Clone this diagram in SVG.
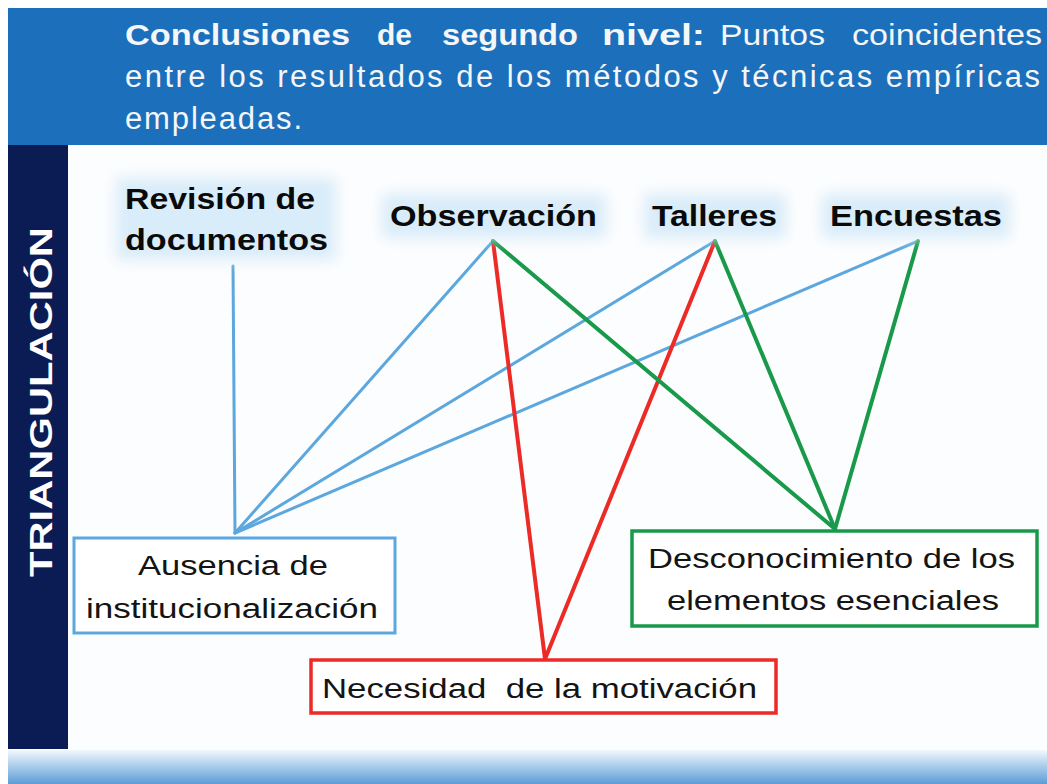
<svg xmlns="http://www.w3.org/2000/svg" width="1047" height="784" viewBox="0 0 1047 784">
  <style>
    .hdr { font-family: "Liberation Sans", Arial, sans-serif; font-size: 29px; fill: #f4f6f8; }
    .hb { font-weight: bold; }
    .big { font-size: 31px; }
    .src { font-family: "Liberation Sans", Arial, sans-serif; font-size: 30px; font-weight: bold; fill: #0a0a0a; }
    .lbl { font-family: "Liberation Sans", Arial, sans-serif; font-size: 27px; fill: #141414; }
    .halo { fill: #d9ecf9; filter: url(#blur); }
    .cb { stroke: #5ba7de; stroke-width: 3; fill: none; stroke-linecap: round; }
    .cr { stroke: #ec2a26; stroke-width: 4; fill: none; stroke-linecap: round; }
    .cg { stroke: #19994a; stroke-width: 4; fill: none; stroke-linecap: round; }
    .box { fill: #ffffff; }
  </style>
  <defs>
    <filter id="blur" x="-20%" y="-50%" width="140%" height="200%">
      <feGaussianBlur stdDeviation="7"/>
    </filter>
    <linearGradient id="band" x1="0" y1="0" x2="0" y2="1">
      <stop offset="0" stop-color="#f2f8fd"/>
      <stop offset="1" stop-color="#5c9dd6"/>
    </linearGradient>
  </defs>

  <rect x="0" y="0" width="1047" height="784" fill="#ffffff"/>
  <rect x="68" y="145" width="979" height="606" fill="#fcfdfe"/>

  <!-- header banner -->
  <g id="header">
    <rect x="8" y="8" width="1039" height="137" fill="#1c6fbb"/>
    <text class="hdr hb" x="125" y="45" textLength="225" lengthAdjust="spacingAndGlyphs">Conclusiones</text>
    <text class="hdr hb" x="377" y="45" textLength="35" lengthAdjust="spacingAndGlyphs">de</text>
    <text class="hdr hb" x="442" y="45" textLength="136" lengthAdjust="spacingAndGlyphs">segundo</text>
    <text class="hdr hb" x="602" y="45" textLength="103" lengthAdjust="spacingAndGlyphs">nivel:</text>
    <text class="hdr" x="720" y="45" textLength="105" lengthAdjust="spacingAndGlyphs">Puntos</text>
    <text class="hdr" x="852" y="45" textLength="190" lengthAdjust="spacingAndGlyphs">coincidentes</text>
    <text class="hdr big" x="125" y="87" textLength="915" lengthAdjust="spacing">entre los resultados de los métodos y técnicas empíricas</text>
    <text class="hdr big" x="125" y="129" textLength="177" lengthAdjust="spacing">empleadas.</text>
  </g>

  <!-- left side bar -->
  <g id="sidebar">
    <rect x="8" y="145" width="60" height="604" fill="#0b1c55"/>
    <text x="0" y="0" transform="translate(52,402) rotate(-90)" text-anchor="middle" font-family="Liberation Sans, Arial, sans-serif" font-size="31" font-weight="bold" fill="#ffffff" textLength="350" lengthAdjust="spacingAndGlyphs">TRIANGULACIÓN</text>
  </g>

  <!-- bottom band -->
  <rect x="8" y="750" width="1039" height="34" fill="url(#band)"/>

  <!-- connectors -->
  <g id="connectors">
    <line class="cb" x1="233" y1="266" x2="235" y2="533"/>
    <line class="cb" x1="493" y1="241" x2="235" y2="533"/>
    <line class="cb" x1="715" y1="241" x2="235" y2="533"/>
    <line class="cb" x1="918" y1="241" x2="235" y2="533"/>
    <line class="cr" x1="493" y1="241" x2="545" y2="659"/>
    <line class="cr" x1="715" y1="241" x2="545" y2="659"/>
    <line class="cg" x1="493" y1="241" x2="835" y2="529"/>
    <line class="cg" x1="715" y1="241" x2="835" y2="529"/>
    <line class="cg" x1="918" y1="241" x2="835" y2="529"/>
  </g>

  <!-- source nodes -->
  <g id="node-revision">
    <rect class="halo" x="116" y="178" width="220" height="82"/>
    <text class="src" x="125" y="209" textLength="190" lengthAdjust="spacingAndGlyphs">Revisión de</text>
    <text class="src" x="125" y="250" textLength="203" lengthAdjust="spacingAndGlyphs">documentos</text>
  </g>
  <g id="node-observacion">
    <rect class="halo" x="382" y="194" width="224" height="44"/>
    <text class="src" x="390" y="226" textLength="207" lengthAdjust="spacingAndGlyphs">Observación</text>
  </g>
  <g id="node-talleres">
    <rect class="halo" x="644" y="194" width="142" height="44"/>
    <text class="src" x="652" y="226" textLength="125" lengthAdjust="spacingAndGlyphs">Talleres</text>
  </g>
  <g id="node-encuestas">
    <rect class="halo" x="822" y="194" width="188" height="44"/>
    <text class="src" x="830" y="226" textLength="172" lengthAdjust="spacingAndGlyphs">Encuestas</text>
  </g>

  <!-- result nodes -->
  <g id="node-ausencia">
    <rect class="box" x="74" y="538" width="321" height="95" stroke="#5ba7de" stroke-width="3"/>
    <text class="lbl" x="138" y="575" textLength="190" lengthAdjust="spacingAndGlyphs">Ausencia de</text>
    <text class="lbl" x="86" y="618" textLength="292" lengthAdjust="spacingAndGlyphs">institucionalización</text>
  </g>
  <g id="node-necesidad">
    <rect class="box" x="311" y="660" width="465" height="53" stroke="#ec2a26" stroke-width="3.5"/>
    <text class="lbl" x="322" y="698" textLength="435" lengthAdjust="spacingAndGlyphs">Necesidad&#160; de la motivación</text>
  </g>
  <g id="node-desconocimiento">
    <rect class="box" x="632" y="531" width="405" height="95" stroke="#19994a" stroke-width="3.5"/>
    <text class="lbl" x="648" y="568" textLength="367" lengthAdjust="spacingAndGlyphs">Desconocimiento de los</text>
    <text class="lbl" x="667" y="610" textLength="332" lengthAdjust="spacingAndGlyphs">elementos esenciales</text>
  </g>
</svg>
